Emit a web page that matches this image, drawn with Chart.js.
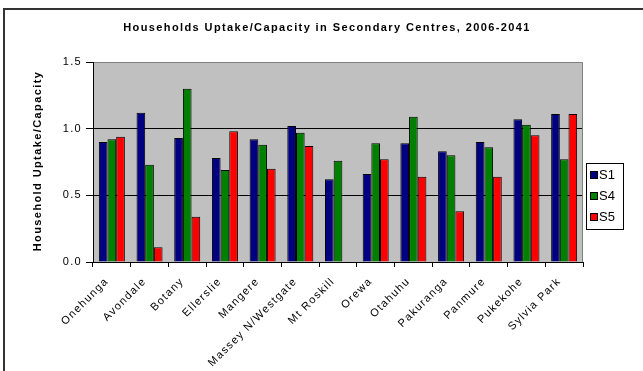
<!DOCTYPE html>
<html>
<head>
<meta charset="utf-8">
<script src="https://cdn.jsdelivr.net/npm/chart.js@4/dist/chart.umd.min.js"></script>
<style>
	html, body { margin: 0; padding: 0; background: #fff; }
	canvas { display: block; }
</style>
</head>
<body>
<canvas id="chart" width="643" height="371"></canvas>
<script>
// DATA

const centres = ['Onehunga', 'Avondale', 'Botany', 'Ellerslie', 'Mangere', 'Massey N/Westgate',
	'Mt Roskill', 'Orewa', 'Otahuhu', 'Pakuranga', 'Panmure', 'Pukekohe', 'Sylvia Park'];
const s1 = [0.90, 1.12, 0.93, 0.78, 0.92, 1.02, 0.62, 0.66, 0.89, 0.83, 0.90, 1.07, 1.11];
const s4 = [0.92, 0.73, 1.30, 0.69, 0.88, 0.97, 0.76, 0.89, 1.09, 0.80, 0.86, 1.03, 0.77];
const s5 = [0.94, 0.11, 0.34, 0.98, 0.70, 0.87, null, 0.77, 0.64, 0.38, 0.64, 0.95, 1.11];
const yTicks = [0, 0.5, 1.0, 1.5];

const titleText = 'Households Uptake/Capacity in Secondary Centres, 2006-2041';
const yTitleText = 'Household Uptake/Capacity';

//==================================
// PLUGINS
//==================================

// grey plot area + frame, title, axis title and legend drawn the Excel way
const decorations = {
	id: 'decorations',
	beforeDraw(chart) {
		const ctx = chart.ctx;
		const a = chart.chartArea;
		ctx.save();
		ctx.fillStyle = '#c0c0c0';
		ctx.fillRect(a.left, a.top, a.right - a.left, a.bottom - a.top);
		ctx.restore();
	},
	afterDatasetsDraw(chart) {
		const ctx = chart.ctx;
		const a = chart.chartArea;
		ctx.save();
		// plot border top/right
		ctx.strokeStyle = '#808080';
		ctx.lineWidth = 1;
		ctx.beginPath();
		ctx.moveTo(a.left, a.top + 0.5);
		ctx.lineTo(a.right - 0.5, a.top + 0.5);
		ctx.lineTo(a.right - 0.5, a.bottom);
		ctx.stroke();
		// axes
		ctx.strokeStyle = '#000';
		ctx.beginPath();
		ctx.moveTo(a.left + 0.5, a.top);
		ctx.lineTo(a.left + 0.5, a.bottom + 0.5);
		ctx.lineTo(a.right, a.bottom + 0.5);
		ctx.stroke();

		// outer frame
		ctx.strokeStyle = '#333';
		ctx.lineWidth = 2;
		ctx.beginPath();
		ctx.moveTo(4, 371);
		ctx.lineTo(4, 9);
		ctx.lineTo(643, 9);
		ctx.stroke();

		// title
		ctx.fillStyle = '#000';
		ctx.font = 'bold 11px "Liberation Sans", Arial, sans-serif';
		ctx.letterSpacing = '1.4px';
		ctx.textAlign = 'center';
		ctx.textBaseline = 'middle';
		ctx.fillText(titleText, 327, 28);

		// y title
		ctx.save();
		ctx.translate(38, 161);
		ctx.rotate(-Math.PI / 2);
		ctx.fillText(yTitleText, 0, 0);
		ctx.restore();

		// legend
		ctx.letterSpacing = '0px';
		ctx.fillStyle = '#fff';
		ctx.fillRect(586, 163, 37, 66);
		ctx.strokeStyle = '#000';
		ctx.lineWidth = 1;
		ctx.strokeRect(586.5, 163.5, 37, 66);
		ctx.font = '13px "Liberation Sans", Arial, sans-serif';
		ctx.textAlign = 'left';
		chart.data.datasets.forEach((ds, i) => {
			const y = 175 + i * 21;
			ctx.fillStyle = ds.backgroundColor;
			ctx.fillRect(590, y - 4, 7, 7);
			ctx.strokeRect(590.5, y - 3.5, 7, 7);
			ctx.fillStyle = '#000';
			ctx.fillText(ds.label, 599, y);
		});
		ctx.restore();
	}
};

// wider spacing on the category names like the original
const tickSpacing = {
	id: 'tickSpacing',
	beforeDraw(chart) { chart.ctx.letterSpacing = '1.3px'; },
	afterDraw(chart) { chart.ctx.letterSpacing = '0px'; }
};

//==================================
// CHART
//==================================

const ctx = document.getElementById('chart').getContext('2d');

new Chart(ctx, {
	type: 'bar',
	data: {
		labels: centres,
		datasets: [
			{ label: 'S1', data: s1, backgroundColor: '#000080' },
			{ label: 'S4', data: s4, backgroundColor: '#008000' },
			{ label: 'S5', data: s5, backgroundColor: '#ff0000' },
		],
	},
	options: {
		responsive: false,
		animation: false,
		layout: { padding: { top: 62, right: 60, left: 0, bottom: 0 } },
		datasets: {
			bar: {
				borderColor: '#000',
				borderWidth: 1,
				categoryPercentage: 0.69,
				barPercentage: 1.0,
			},
		},
		plugins: {
			legend: { display: false },
			title: { display: false },
			tooltip: { enabled: false },
		},
		scales: {
			x: {
				grid: {
					offset: true,
					drawOnChartArea: false,
					drawTicks: true,
					tickLength: 5,
					color: '#000',
				},
				border: { display: false },
				ticks: {
					color: '#000',
					font: { family: '"Liberation Sans", Arial, sans-serif', size: 11 },
					minRotation: 45,
					maxRotation: 45,
					autoSkip: false,
					padding: 8,
					labelOffset: -5,
				},
				afterFit(scale) { scale.height = 109; },
			},
			y: {
				min: 0,
				max: 1.5,
				afterBuildTicks(scale) { scale.ticks = yTicks.map(v => ({ value: v })); },
				grid: {
					color: (c) => c.tick && c.tick.value === 1.5 ? 'rgba(0,0,0,0)' : '#000',
					tickColor: '#000',
					tickLength: 7,
					drawTicks: true,
				},
				border: { display: false },
				ticks: {
					color: '#000',
					font: { family: '"Liberation Sans", Arial, sans-serif', size: 11 },
					padding: 4,
					callback: (v) => Number(v).toFixed(1),
				},
				afterFit(scale) { scale.width = 93; },
			},
		},
	},
	plugins: [decorations, tickSpacing],
});
</script>
</body>
</html>
